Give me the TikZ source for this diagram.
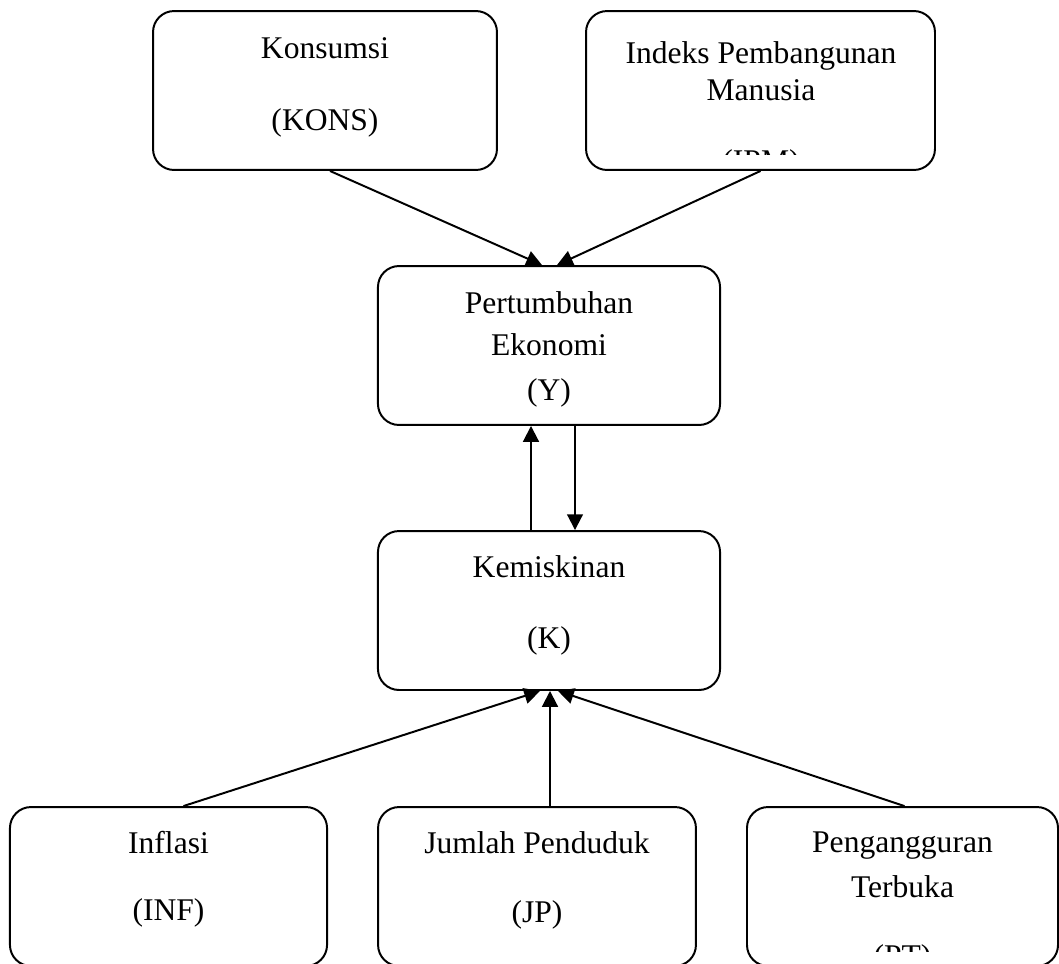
\documentclass[tikz,border=0pt]{standalone}
\usepackage{fontspec}
\setmainfont{Liberation Serif}
\usetikzlibrary{arrows.meta,calc}

\tikzset{
  kotak/.style={draw,line width=0.75pt,rounded corners=8pt,minimum height=60.4pt,inner sep=0pt},
  teks/.style={anchor=base,inner sep=0pt,font=\fontsize{12}{14}\selectfont},
  panah/.style={line width=0.75pt,-{Triangle[length=6pt,width=6pt]}}
}

\begin{document}
\begin{tikzpicture}[x=0.38pt,y=-0.38pt]
      \useasboundingbox (0,0) rectangle (1059,963);
      % kotak
      \node[kotak,minimum width=130.7pt] (kons) at (325,90.5) {};
      \node[kotak,minimum width=132.6pt] (ipm) at (760.5,90.5) {};
      \node[kotak,minimum width=130pt] (y) at (549,345.5) {};
      \node[kotak,minimum width=130pt] (k) at (549,610.5) {};
      \node[kotak,minimum width=120.5pt] (inf) at (168.5,886.5) {};
      \node[kotak,minimum width=120.8pt] (jp) at (537,886.5) {};
      \node[kotak,minimum width=118.2pt] (pt) at (902.5,886.5) {};
      % teks
      \node[teks] (kons1) at (325,58) {Konsumsi};
      \node[teks] (kons2) at (325,130) {(KONS)};
      \node[teks] (ipm1) at (761,63) {Indeks Pembangunan};
      \node[teks] (ipm2) at (761,100) {Manusia};
      \begin{scope}
        \clip (ipm.north west) rectangle ($(ipm.south east)+(0,-16)$);
        \node[teks] (ipm3) at (761,171) {(IPM)};
      \end{scope}
      \node[teks] (y1) at (549,313) {Pertumbuhan};
      \node[teks] (y2) at (549,355) {Ekonomi};
      \node[teks] (y3) at (549,400) {(Y)};
      \node[teks] (k1) at (549,577) {Kemiskinan};
      \node[teks] (k2) at (549,648) {(K)};
      \node[teks] (inf1) at (168.5,853) {Inflasi};
      \node[teks] (inf2) at (168.5,920) {(INF)};
      \node[teks] (jp1) at (537,853) {Jumlah Penduduk};
      \node[teks] (jp2) at (537,922) {(JP)};
      \node[teks] (pt1) at (902.5,852) {Pengangguran};
      \node[teks] (pt2) at (902.5,897) {Terbuka};
      \begin{scope}
        \clip (pt.north west) rectangle ($(pt.south east)+(0,-15)$);
        \node[teks] (pt3) at (902.5,966) {(PT)};
      \end{scope}
      % panah
      \draw[panah] ($(kons.south)+(5,0)$)--($(y.north)+(-7,0)$);
      \draw[panah] (ipm.south)--($(y.north)+(8,0)$);
      \draw[panah] ($(k.north)+(-18,0)$)--($(y.south)+(-18,0)$);
      \draw[panah] ($(y.south)+(26,0)$)--($(k.north)+(26,0)$);
      \draw[panah] ($(inf.north)+(15,0)$)--($(k.south)+(-9,0)$);
      \draw[panah] ($(jp.north)+(13,0)$)--($(k.south)+(1,0)$);
      \draw[panah] ($(pt.north)+(2,0)$)--($(k.south)+(9,0)$);
\end{tikzpicture}
\end{document}
